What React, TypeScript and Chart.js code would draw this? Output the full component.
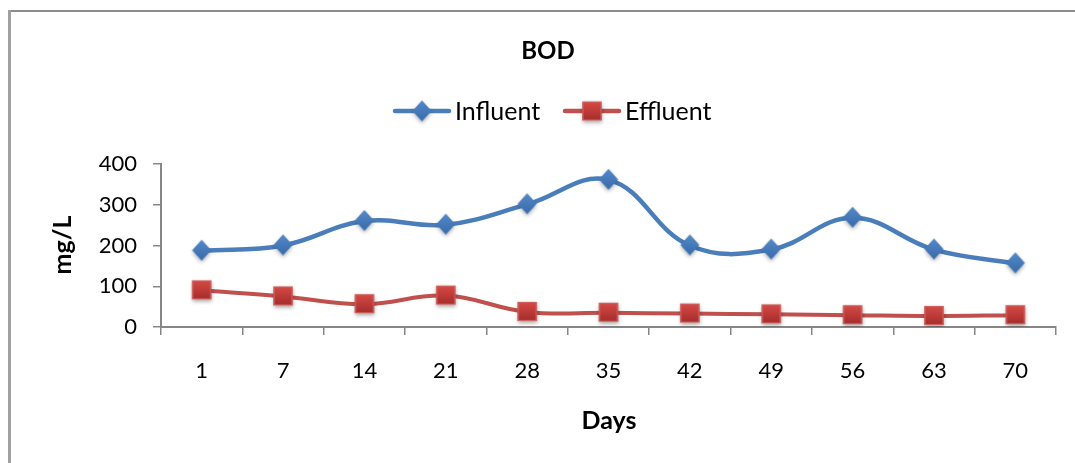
import React, { useEffect, useRef } from "react";
import { Chart, registerables } from "chart.js";

Chart.register(...registerables);

const days = ["1", "7", "14", "21", "28", "35", "42", "49", "56", "63", "70"];
const influent = [187, 200, 260, 251, 301, 361, 200, 190, 268, 190, 156];
const effluent = [90, 75, 56, 77, 37, 35, 33, 31, 29, 27, 29];
const yTicks = [0, 100, 200, 300, 400];

const BLUE = "#4A7EBB";
const RED = "#C0504D";
const AXIS = "#868686";
const FONT = "Lato, 'Noto Sans', sans-serif";

function makeDiamond(): HTMLCanvasElement {
  const c = document.createElement("canvas");
  c.width = 30;
  c.height = 30;
  const ctx = c.getContext("2d")!;
  const cx = 15, cy = 14.5;
  ctx.shadowColor = "rgba(0,0,0,0.35)";
  ctx.shadowBlur = 4;
  ctx.shadowOffsetY = 2;
  const g = ctx.createLinearGradient(0, cy - 10, 0, cy + 10);
  g.addColorStop(0, "#5289CB");
  g.addColorStop(1, "#3A6AA8");
  ctx.fillStyle = g;
  ctx.beginPath();
  ctx.moveTo(cx, cy - 10);
  ctx.lineTo(cx + 9, cy);
  ctx.lineTo(cx, cy + 10);
  ctx.lineTo(cx - 9, cy);
  ctx.closePath();
  ctx.fill();
  ctx.shadowColor = "transparent";
  ctx.strokeStyle = "#4A7EBB";
  ctx.lineWidth = 1;
  ctx.stroke();
  return c;
}

function makeSquare(): HTMLCanvasElement {
  const c = document.createElement("canvas");
  c.width = 30;
  c.height = 30;
  const ctx = c.getContext("2d")!;
  const s = 19;
  const x0 = 15 - s / 2, y0 = 14.5 - s / 2;
  ctx.shadowColor = "rgba(0,0,0,0.35)";
  ctx.shadowBlur = 4;
  ctx.shadowOffsetY = 2;
  const g = ctx.createLinearGradient(0, y0, 0, y0 + s);
  g.addColorStop(0, "#D64A47");
  g.addColorStop(1, "#A52C2A");
  ctx.fillStyle = g;
  ctx.fillRect(x0, y0, s, s);
  ctx.shadowColor = "transparent";
  ctx.strokeStyle = "#CC6260";
  ctx.lineWidth = 1.2;
  ctx.strokeRect(x0 + 0.5, y0 + 0.5, s - 1, s - 1);
  return c;
}

export default function App() {
  const ref = useRef<HTMLCanvasElement | null>(null);

  useEffect(() => {
    if (!ref.current) return;
    const diamond = makeDiamond();
    const square = makeSquare();

    const decor = {
      id: "decor",
      beforeDraw(chart: any) {
        const ctx = chart.ctx;
        ctx.save();
        ctx.fillStyle = "#ffffff";
        ctx.fillRect(0, 0, chart.width, chart.height);
        ctx.fillStyle = "#8C8C8C";
        ctx.fillRect(8, 10, 1067, 2);
        ctx.fillStyle = "#A0A0A0";
        ctx.fillRect(8, 10, 3, 453);
        ctx.restore();
      },
      afterDraw(chart: any) {
        const ctx = chart.ctx;
        ctx.save();
        ctx.fillStyle = "#000000";
        ctx.textAlign = "center";
        ctx.textBaseline = "middle";
        ctx.font = `bold 24px ${FONT}`;
        ctx.fillText("BOD", 548, 51);
        ctx.font = `bold 25px ${FONT}`;
        ctx.fillText("Days", 609, 421);
        ctx.save();
        ctx.translate(63, 245);
        ctx.rotate(-Math.PI / 2);
        ctx.font = `bold 25px ${FONT}`;
        ctx.fillText("mg/L", 0, 0);
        ctx.restore();

        // legend
        const ly = 111;
        const items = [
          { x0: 395, x1: 449, color: BLUE, img: diamond, text: "Influent", tx: 455 },
          { x0: 565, x1: 619, color: RED, img: square, text: "Effluent", tx: 625 },
        ];
        items.forEach((it) => {
          ctx.strokeStyle = it.color;
          ctx.lineWidth = 4.5;
          ctx.lineCap = "round";
          ctx.beginPath();
          ctx.moveTo(it.x0, ly);
          ctx.lineTo(it.x1, ly);
          ctx.stroke();
          const cx = (it.x0 + it.x1) / 2;
          ctx.drawImage(it.img, cx - 15, ly - 14.5);
          ctx.fillStyle = "#000000";
          ctx.textAlign = "left";
          ctx.font = `25px ${FONT}`;
          ctx.fillText(it.text, it.tx, ly + 1);
        });
        ctx.restore();
      },
    };

    const chart = new Chart(ref.current, {
      type: "line",
      data: {
        labels: days,
        datasets: [
          {
            label: "Influent",
            data: influent,
            borderColor: BLUE,
            borderWidth: 4.5,
            tension: 0.4,
            pointStyle: diamond as any,
            pointRadius: 10,
            pointHoverRadius: 10,
            fill: false,
          },
          {
            label: "Effluent",
            data: effluent,
            borderColor: RED,
            borderWidth: 4,
            tension: 0.4,
            pointStyle: square as any,
            pointRadius: 10,
            pointHoverRadius: 10,
            fill: false,
          },
        ],
      },
      options: {
        responsive: false,
        animation: false,
        devicePixelRatio: 1,
        layout: { padding: { left: 0, top: 164, right: 19, bottom: 0 } },
        plugins: {
          legend: { display: false },
          title: { display: false },
          tooltip: { enabled: false },
        },
        scales: {
          x: {
            type: "category",
            offset: true,
            grid: {
              offset: true,
              drawOnChartArea: false,
              drawTicks: true,
              tickLength: 8,
              color: AXIS,
              lineWidth: 1.5,
            },
            border: { display: true, color: AXIS, width: 2 },
            ticks: {
              color: "#000000",
              font: { family: FONT, size: 22 },
              padding: 23,
              maxRotation: 0,
              autoSkip: false,
            },
            afterFit(scale: any) {
              scale.height = 136;
            },
          },
          y: {
            min: 0,
            max: 400,
            afterBuildTicks(scale: any) {
              scale.ticks = yTicks.map((v) => ({ value: v }));
            },
            grid: {
              drawOnChartArea: false,
              drawTicks: true,
              tickLength: 8,
              color: AXIS,
              lineWidth: 1.5,
            },
            border: { display: true, color: AXIS, width: 2 },
            ticks: {
              color: "#000000",
              font: { family: FONT, size: 22 },
              padding: 16,
            },
            afterFit(scale: any) {
              scale.width = 161;
            },
          },
        },
      },
      plugins: [decor],
    });

    return () => chart.destroy();
  }, []);

  return (
    <div style={{ position: "absolute", left: 0, top: 0, width: 1075, height: 463, background: "#fff" }}>
      <canvas ref={ref} width={1075} height={463} style={{ width: 1075, height: 463, display: "block" }} />
    </div>
  );
}
